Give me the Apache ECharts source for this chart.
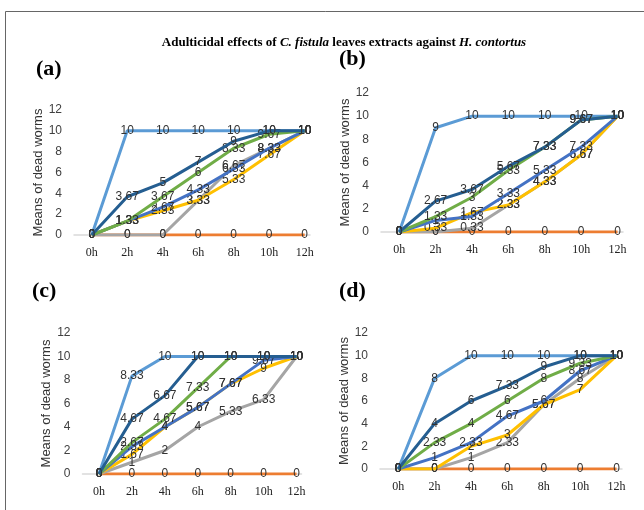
<!DOCTYPE html>
<html><head><meta charset="utf-8">
<script src="https://cdn.jsdelivr.net/npm/echarts@6/dist/echarts.min.js"></script>
<style>html,body{margin:0;padding:0;background:#fff}#c{width:644px;height:510px}</style>
</head><body><div id="c"></div>
<script>
const hours = [0,2,4,6,8,10,12];
const hourTicks = [0,2,4,6,8,10,12];
const yTicks = [0,2,4,6,8,10,12];
const seriesNames = ['s1','s2','s3','s4','s5','s6','s7'];
const colors = ['#5B9BD5','#ED7D31','#A5A5A5','#FFC000','#4472C4','#70AD47','#255E91'];

// panel (a)
const a_s1 = [0,10,10,10,10,10,10];
const a_s2 = [0,0,0,0,0,0,0];
const a_s3 = [0,0,0,3.33,6.67,8.33,10];
const a_s4 = [0,1.33,2.33,3.33,5.33,7.67,10];
const a_s5 = [0,1.33,2.67,4.33,6.33,8.33,10];
const a_s6 = [0,1.33,3.67,6,8.33,9.67,10];
const a_s7 = [0,3.67,5,7,9,10,10];
// panel (b)
const b_s1 = [0,9,10,10,10,10,10];
const b_s2 = [0,0,0,0,0,0,0];
const b_s3 = [0,0,0.33,2.33,4.33,6.67,10];
const b_s4 = [0,0.33,1.67,2.33,4.33,6.67,10];
const b_s5 = [0,1,1.33,3.33,5.33,7.33,10];
const b_s6 = [0,1.33,3,5.33,7.33,9.67,10];
const b_s7 = [0,2.67,3.67,5.67,7.33,9.67,10];
// panel (c)
const c_s1 = [0,8.33,10,10,10,10,10];
const c_s2 = [0,0,0,0,0,0,0];
const c_s3 = [0,1,2,4,5.33,6.33,10];
const c_s4 = [0,1.67,4,5.67,7.67,9,10];
const c_s5 = [0,2.33,4,5.67,7.67,9.67,10];
const c_s6 = [0,2.67,4.67,7.33,10,10,10];
const c_s7 = [0,4.67,6.67,10,10,10,10];
// panel (d)
const d_s1 = [0,8,10,10,10,10,10];
const d_s2 = [0,0,0,0,0,0,0];
const d_s3 = [0,0,1,2.33,5.67,8,10];
const d_s4 = [0,0,2,3,5.67,7,10];
const d_s5 = [0,1,2.33,4.67,6,8.67,10];
const d_s6 = [0,2.33,4,6,8,9.33,10];
const d_s7 = [0,4,6,7.33,9,10,10];

const panels = [
  [a_s1,a_s2,a_s3,a_s4,a_s5,a_s6,a_s7],
  [b_s1,b_s2,b_s3,b_s4,b_s5,b_s6,b_s7],
  [c_s1,c_s2,c_s3,c_s4,c_s5,c_s6,c_s7],
  [d_s1,d_s2,d_s3,d_s4,d_s5,d_s6,d_s7]
];
const panelLetters = ['(a)','(b)','(c)','(d)'];

const grids = [
  {left:74, top:110, width:236, height:125, gap:29},
  {left:381, top:93, width:242, height:139, gap:28},
  {left:82.5, top:333, width:219, height:141, gap:29},
  {left:380, top:333, width:242, height:136, gap:27}
];
const letterPos = [[36,58],[339,48],[32,280],[339,280]];

const chart = echarts.init(document.getElementById('c'));
const option = {
  backgroundColor:'#fff',
  animation:false,
  title:{
    text:'{b|Adulticidal effects of }{i|C. fistula}{b| leaves extracts against }{i|H. contortus}',
    left:339, top:31, textAlign:'center',
    textStyle:{rich:{
      b:{fontFamily:'Liberation Serif',fontWeight:'bold',fontSize:13,color:'#000'},
      i:{fontFamily:'Liberation Serif',fontWeight:'bold',fontStyle:'italic',fontSize:13,color:'#000'}
    }}
  },
  graphic:[{type:'rect',shape:{x:5.5,y:11.5,width:700,height:600},style:{fill:null,stroke:'#666',lineWidth:1}}]
    .concat(letterPos.map((p,i)=>({type:'text',left:p[0],top:p[1],style:{text:panelLetters[i],font:'bold 22px "Liberation Serif"',fill:'#000'}}))),
  grid: grids.map(g=>({left:g.left,top:g.top,width:g.width,height:g.height})),
  xAxis: grids.map((g,i)=>({
    type:'value', gridIndex:i, min:-1, max:12.3,
    splitLine:{show:false},
    axisLine:{show:true,onZero:false,lineStyle:{color:'#D9D9D9',width:1.5}},
    axisTick:{show:false},
    axisLabel:{customValues:hourTicks,formatter:v=>v+'h',fontFamily:'Liberation Serif',fontSize:12,color:'#222',margin:12}
  })),
  yAxis: grids.map((g,i)=>({
    type:'value', gridIndex:i, min:0, max:12, interval:2,
    name:'Means of dead worms', nameLocation:'middle', nameGap:g.gap,
    nameTextStyle:{fontFamily:'Liberation Sans',fontSize:13,color:'#333'},
    splitLine:{show:false}, axisLine:{show:false}, axisTick:{show:false},
    axisLabel:{fontFamily:'Liberation Sans',fontSize:12,color:'#404040',margin:12}
  })),
  series: []
};
panels.forEach((p,pi)=>{
  p.forEach((vals,si)=>{
    option.series.push({
      type:'line', name:seriesNames[si], xAxisIndex:pi, yAxisIndex:pi,
      data: hours.map((h,k)=>[h,vals[k]]),
      symbol:'circle', symbolSize:0.01, showSymbol:true,
      lineStyle:{color:colors[si],width:3},
      itemStyle:{color:colors[si]},
      label:{show:true,position:'inside',formatter:pr=>String(pr.value[1]),fontFamily:'Liberation Sans',fontSize:12,color:'#333'},
      z:2+si
    });
  });
});
chart.setOption(option);
</script></body></html>
